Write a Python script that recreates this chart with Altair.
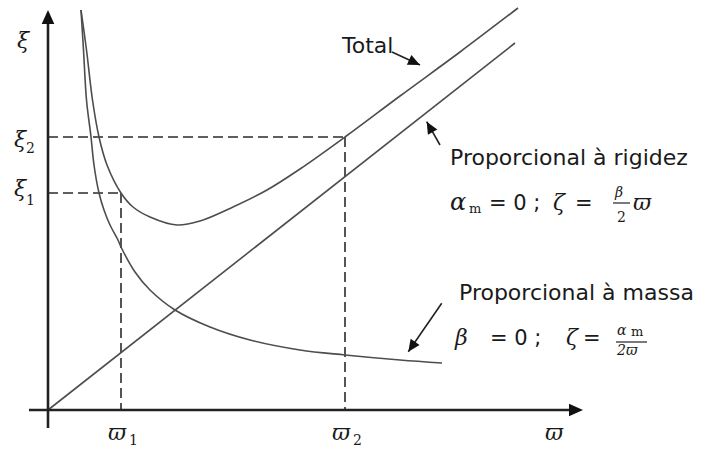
import altair as alt
import pandas as pd

# Reference frequencies and damping levels (plot units, origin at the axes corner)
omega_marks = [73, 297]      # ω1, ω2
xi_marks = [217, 273]        # ξ1, ξ2

# Mass-proportional damping curve
mass_w = [33, 35.5, 38.5, 43, 46, 51, 56, 62, 70, 73, 87, 102, 127, 162, 202, 252, 297, 352, 394]
mass_z = [400, 360, 310, 273, 245, 217, 200, 185, 170, 163, 138, 120, 100, 83, 70, 60, 55, 50, 47]

# Total (Rayleigh) damping curve
total_w = [33, 38.5, 44.5, 51, 59, 73, 85, 102, 129, 152, 185, 219, 252, 297, 352, 412, 470]
total_z = [400, 360, 310, 273, 245, 217, 203, 193, 185, 189, 203, 220, 241, 273, 314, 358, 402]

# Stiffness-proportional damping line
stiff_w = [0, 467]
stiff_z = [0, 367]

xs = alt.Scale(domain=[-48, 657], nice=False, zero=False)
ys = alt.Scale(domain=[-40, 410], nice=False, zero=False)
X = lambda f: alt.X(f, type="quantitative", scale=xs, axis=None)
Y = lambda f: alt.Y(f, type="quantitative", scale=ys, axis=None)

curves = pd.DataFrame(
    [{"w": w, "z": z, "s": "massa"} for w, z in zip(mass_w, mass_z)]
    + [{"w": w, "z": z, "s": "total"} for w, z in zip(total_w, total_z)]
    + [{"w": w, "z": z, "s": "rigidez"} for w, z in zip(stiff_w, stiff_z)]
)
curve_layer = alt.Chart(curves).mark_line(
    interpolate="catmull-rom", color="#4d4d4d", strokeWidth=1.6
).encode(x=X("w"), y=Y("z"), detail="s:N", order="w:Q")

# Dashed guides from ξ levels to the curve and down to ω
guides = pd.DataFrame({
    "x": [0, omega_marks[0], 0, omega_marks[1]],
    "x2": [omega_marks[0], omega_marks[0], omega_marks[1], omega_marks[1]],
    "y": [xi_marks[0], xi_marks[0], xi_marks[1], xi_marks[1]],
    "y2": [xi_marks[0], 0, xi_marks[1], 0],
})
guide_layer = alt.Chart(guides).mark_rule(
    color="#2b2b2b", strokeWidth=1.6, strokeDash=[10, 5]
).encode(x=X("x"), x2="x2:Q", y=Y("y"), y2="y2:Q")

# Axes with arrowheads
axes = pd.DataFrame({"x": [0, -19], "x2": [0, 525], "y": [-18, 0], "y2": [396, 0]})
axis_layer = alt.Chart(axes).mark_rule(color="#222222", strokeWidth=2.6).encode(
    x=X("x"), x2="x2:Q", y=Y("y"), y2="y2:Q"
)

head_shape = "M0,0L-0.9,2L0.9,2Z"
axis_heads = pd.DataFrame({"x": [0, 535], "y": [400, 0], "a": [0, 90]})
axis_head_layer = alt.Chart(axis_heads).mark_point(
    shape=head_shape, filled=True, size=196, color="#111111", opacity=1
).encode(x=X("x"), y=Y("y"), angle=alt.Angle("a:Q", scale=None))

# Annotation arrows
notes = pd.DataFrame({
    "x": [344, 392, 393.7], "y": [358, 265, 106.7],
    "x2": [372, 378.7, 360.3], "y2": [345, 288.3, 58.3],
    "a": [114.9, 330.5, 214.6],
})
note_shaft = alt.Chart(notes).mark_rule(color="#222222", strokeWidth=1.6).encode(
    x=X("x"), x2="x2:Q", y=Y("y"), y2="y2:Q"
)
note_head = alt.Chart(notes).mark_point(
    shape=head_shape, filled=True, size=144, color="#111111", opacity=1
).encode(x=X("x2"), y=Y("y2"), angle=alt.Angle("a:Q", scale=None))

# Fraction bars in the two damping formulas
bars = pd.DataFrame({"x": [565, 568], "x2": [582, 599], "y": [207, 68]})
bar_layer = alt.Chart(bars).mark_rule(color="#222222", strokeWidth=1.2).encode(
    x=X("x"), x2="x2:Q", y=Y("y")
)

labels = pd.DataFrame([
    # axis symbols
    ("ξ", -31, 362, 22, "it"),
    ("ξ", -34, 263, 22, "it"), ("2", -22, 257, 14, "rm"),
    ("ξ", -34, 214, 22, "it"), ("1", -22, 205, 14, "rm"),
    ("ϖ", 60, -30, 22, "it"), ("1", 81, -35, 14, "rm"),
    ("ϖ", 284, -30, 22, "it"), ("2", 305, -35, 14, "rm"),
    ("ϖ", 497, -30, 22, "it"),
    # curve names
    ("Total", 294, 357, 22, "sans"),
    ("Proporcional à rigidez", 402, 245, 22, "sans"),
    ("Proporcional à massa", 411, 110, 22, "sans"),
    # stiffness formula
    ("α", 402, 200, 24, "it"), ("m", 421, 197, 13, "rm"),
    ("= 0 ;", 441, 200, 21, "sans"),
    ("ζ", 505, 200, 22, "it"), ("=", 527, 200, 21, "sans"),
    ("β", 567, 213, 14, "it"), ("2", 569, 188, 14, "rm"),
    ("ϖ", 585, 200, 22, "it"),
    # mass formula
    ("β", 407, 65, 22, "it"),
    ("= 0 ;", 442, 65, 21, "sans"),
    ("ζ", 518, 65, 22, "it"), ("=", 535, 65, 21, "sans"),
    ("α", 569, 75, 14, "it"), ("m", 583, 74, 13, "rm"),
    ("2ϖ", 569, 55, 14, "it"),
], columns=["t", "x", "y", "size", "kind"])


def text_layer(kind, font, style):
    return alt.Chart(labels[labels["kind"] == kind]).mark_text(
        align="left", baseline="alphabetic", font=font, fontStyle=style, color="#1a1a1a"
    ).encode(
        x=X("x"), y=Y("y"), text="t:N", size=alt.Size("size:Q", scale=None)
    )


chart = alt.layer(
    guide_layer,
    curve_layer,
    axis_layer,
    axis_head_layer,
    note_shaft,
    note_head,
    bar_layer,
    text_layer("sans", "DejaVu Sans", "normal"),
    text_layer("it", "DejaVu Serif", "italic"),
    text_layer("rm", "DejaVu Serif", "normal"),
).properties(
    width=705, height=450, padding=0, autosize="none", background="white"
).configure_view(stroke=None)

chart.save("out.html", embed_options={"renderer": "svg", "actions": False})
